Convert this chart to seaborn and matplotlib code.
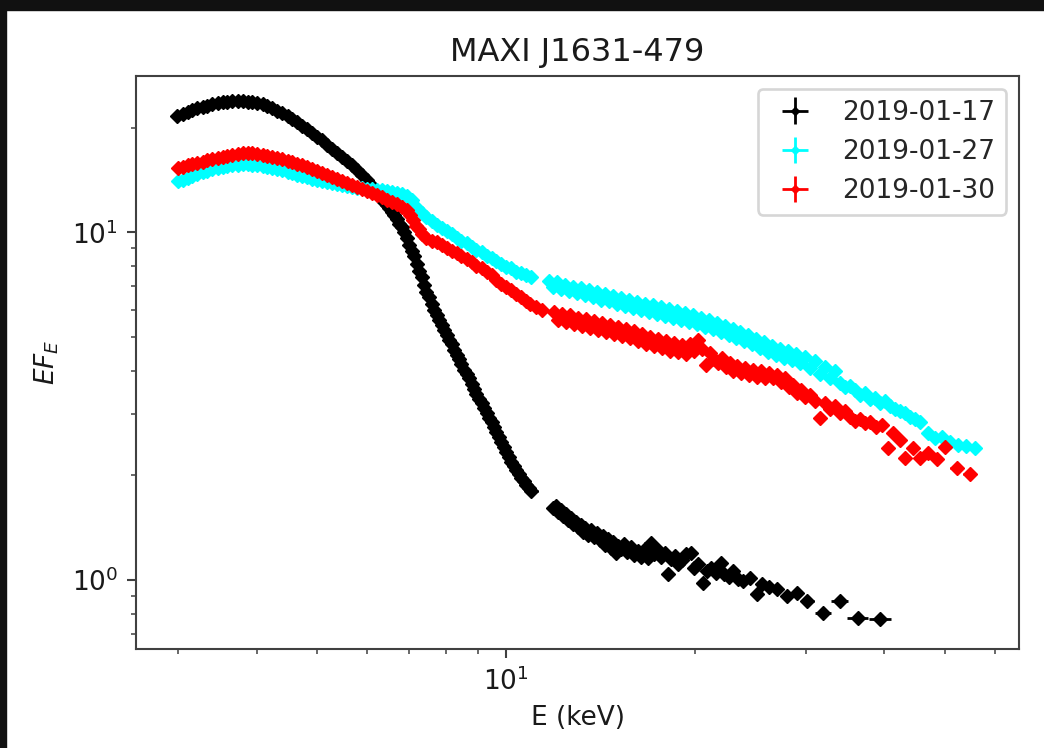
import numpy as np
import matplotlib
matplotlib.use("Agg")
import matplotlib.pyplot as plt
from matplotlib.patches import Rectangle
import seaborn as sns

title = "MAXI J1631-479"
dates = ["2019-01-17", "2019-01-27", "2019-01-30"]
colors = ["black", "cyan", "red"]

# energy (keV) and E*F_E
e_0117 = [2.99, 3.05, 3.11, 3.16, 3.22, 3.28, 3.34, 3.40, 3.47, 3.53, 3.59, 3.66, 3.73, 3.80,
          3.87, 3.94, 4.01, 4.09, 4.16, 4.24, 4.31, 4.39, 4.48, 4.56, 4.64, 4.73, 4.81, 4.90,
          4.99, 5.09, 5.18, 5.27, 5.37, 5.47, 5.57, 5.68, 5.78, 5.89, 6.00, 6.11, 6.22, 6.33,
          6.39, 6.45, 6.51, 6.57, 6.63, 6.69, 6.75, 6.81, 6.88, 6.94, 7.00, 7.07, 7.13, 7.20,
          7.26, 7.33, 7.40, 7.46, 7.53, 7.60, 7.67, 7.74, 7.81, 7.89, 7.96, 8.03, 8.11, 8.18,
          8.25, 8.33, 8.41, 8.48, 8.56, 8.64, 8.72, 8.80, 8.88, 8.96, 9.05, 9.13, 9.21, 9.30,
          9.38, 9.47, 9.55, 9.64, 9.73, 9.82, 9.91, 10.00, 10.09, 10.18, 10.28, 10.37, 10.46,
          10.56, 10.66, 10.76, 10.86, 10.96,
          11.87, 12.00, 12.09, 12.23, 12.32, 12.45, 12.54, 12.68, 12.78, 12.92, 13.01, 13.15,
          13.25, 13.35, 13.50, 13.64, 13.80, 13.95, 14.10, 14.25, 14.36, 14.52, 14.68, 14.79,
          14.95, 15.06, 15.23, 15.40, 15.57, 15.79, 15.97, 16.21, 16.38, 16.62, 16.80, 16.99,
          17.18, 17.43, 17.62, 17.88, 18.08, 18.28, 18.55, 18.76, 19.03, 19.31, 19.67, 19.89,
          20.18, 20.55, 20.85, 21.16, 21.54, 21.94, 22.19, 22.60, 23.01, 23.43, 23.87, 24.48,
          25.11, 25.58, 26.24, 27.03, 28.03, 29.07, 30.16, 32.0, 34.0, 36.3, 39.4]
f_0117 = [21.60, 21.89, 22.18, 22.47, 22.78, 22.93, 23.08, 23.38, 23.54, 23.70, 23.70, 23.85,
          23.85, 23.85, 23.70, 23.70, 23.54, 23.38, 23.08, 22.78, 22.33, 22.03, 21.60, 21.17,
          20.75, 20.21, 19.81, 19.29, 18.78, 18.41, 17.81, 17.35, 16.89, 16.45, 16.03, 15.60,
          15.09, 14.60, 14.12, 13.57, 13.13, 12.61,
          12.20, 11.96, 11.73, 11.42, 11.19, 10.90, 10.61, 10.34, 10.00, 9.61, 9.23, 8.87, 8.53,
          8.14, 7.77, 7.42, 7.08, 6.76, 6.50, 6.24, 6.00, 5.80, 5.61, 5.43, 5.25, 5.08, 4.91,
          4.76, 4.60, 4.45, 4.31, 4.17, 4.03, 3.92, 3.80, 3.67, 3.55, 3.44, 3.32, 3.22, 3.13,
          3.03, 2.93, 2.85, 2.76, 2.67, 2.58, 2.50, 2.42, 2.34, 2.26, 2.19, 2.13, 2.07, 2.02,
          1.97, 1.93, 1.88, 1.84, 1.80,
          1.612, 1.634, 1.570, 1.591, 1.529, 1.550, 1.489, 1.509, 1.450, 1.469, 1.421, 1.440,
          1.375, 1.412, 1.348, 1.393, 1.330, 1.366, 1.304, 1.339, 1.261, 1.312, 1.236, 1.287,
          1.196, 1.253, 1.228, 1.270, 1.204, 1.245, 1.180, 1.212, 1.165, 1.228, 1.157, 1.278,
          1.188, 1.220, 1.165, 1.196, 1.040, 1.149, 1.172, 1.112, 1.142, 1.188, 1.196, 1.083,
          1.112, 0.980, 1.061, 1.083, 1.047, 1.119, 1.040, 1.020, 1.061, 1.006, 0.993, 1.013,
          0.911, 0.974, 0.954, 0.942, 0.899, 0.917, 0.870, 0.803, 0.870, 0.777, 0.772]

e_0127 = [3.00, 3.05, 3.11, 3.16, 3.22, 3.28, 3.34, 3.40, 3.47, 3.53, 3.59, 3.66, 3.73, 3.80,
          3.87, 3.94, 4.01, 4.09, 4.16, 4.24, 4.31, 4.39, 4.48, 4.56, 4.64, 4.73, 4.81, 4.90,
          4.99, 5.09, 5.18, 5.27, 5.37, 5.47, 5.57, 5.68, 5.78, 5.89, 6.00, 6.11, 6.22, 6.33,
          6.45, 6.57, 6.69, 6.81, 6.94, 7.07, 7.20, 7.33, 7.46, 7.60, 7.74, 7.89, 8.03, 8.18,
          8.33, 8.48, 8.64, 8.80, 8.96, 9.13, 9.30, 9.47, 9.64, 9.82, 10.00, 10.18, 10.37,
          10.56, 10.76, 10.96,
          11.70, 11.87, 12.05, 12.23, 12.41, 12.59, 12.78, 12.96, 13.15, 13.35, 13.54, 13.75,
          13.95, 14.15, 14.36, 14.57, 14.79, 15.01, 15.23, 15.46, 15.68, 15.91, 16.15, 16.38,
          16.62, 16.87, 17.12, 17.37, 17.62, 17.88, 18.15, 18.41, 18.69, 18.96, 19.24, 19.53,
          19.82, 20.11, 20.40, 20.70, 21.01, 21.31, 21.62, 21.94, 22.27, 22.60, 22.93, 23.26,
          23.60, 23.95, 24.30, 24.66, 25.02, 25.40, 25.77, 26.15, 26.54, 26.93, 27.32, 27.73,
          28.13, 28.55, 28.97, 29.39, 29.94, 30.49, 31.05, 31.62, 32.21, 32.80, 33.40, 34.02,
          34.65, 35.29, 35.94, 36.60, 37.28, 37.97, 38.67, 39.38, 40.11, 40.85, 41.60, 42.36,
          43.15, 43.94, 44.75, 45.58, 46.93, 48.14, 49.39, 50.85, 52.36, 53.91, 55.71]
f_0127 = [14.03, 14.12, 14.31, 14.50, 14.69, 14.89, 14.99, 15.19, 15.29, 15.39, 15.50, 15.60,
          15.60, 15.70, 15.70, 15.60, 15.60, 15.50, 15.39, 15.29, 15.19, 15.09, 14.89, 14.79,
          14.60, 14.50, 14.41, 14.22, 14.12, 14.03, 13.94, 13.84, 13.75, 13.66, 13.57, 13.48,
          13.39, 13.39, 13.30, 13.30, 13.21, 13.21, 13.13, 13.04, 12.95, 12.87, 12.70, 12.37,
          11.73, 11.34, 11.05, 10.76, 10.48, 10.27, 10.07, 9.87, 9.67, 9.48, 9.30, 9.11, 8.93,
          8.76, 8.58, 8.42, 8.25, 8.09, 7.98, 7.88, 7.72, 7.62, 7.52, 7.42,
          7.27, 6.98, 7.22, 6.86, 7.08, 6.77, 6.99, 6.68, 6.90, 6.59, 6.81, 6.50, 6.72, 6.41,
          6.63, 6.33, 6.55, 6.24, 6.46, 6.16, 6.38, 6.08, 6.29, 6.00, 6.21, 5.92, 6.17, 5.84,
          6.09, 5.76, 6.01, 5.69, 5.93, 5.61, 5.85, 5.54, 5.78, 5.46, 5.66, 5.36, 5.59, 5.28,
          5.48, 5.18, 5.37, 5.08, 5.27, 4.98, 5.17, 4.88, 5.07, 4.78, 4.93, 4.65, 4.84, 4.53,
          4.71, 4.44, 4.62, 4.35, 4.56, 4.29, 4.47, 4.21, 4.38, 4.07, 4.27, 3.91, 4.11, 3.81,
          3.99, 3.70, 3.60, 3.62, 3.51, 3.41, 3.46, 3.32, 3.35, 3.24, 3.28, 3.17, 3.11, 3.07,
          3.03, 2.95, 2.91, 2.85, 2.64, 2.57, 2.58, 2.50, 2.45, 2.43, 2.40]

e_0130 = [3.00, 3.05, 3.11, 3.16, 3.22, 3.28, 3.34, 3.40, 3.47, 3.53, 3.59, 3.66, 3.73, 3.80,
          3.87, 3.94, 4.01, 4.09, 4.16, 4.24, 4.31, 4.39, 4.48, 4.56, 4.64, 4.73, 4.81, 4.90,
          4.99, 5.09, 5.18, 5.27, 5.37, 5.47, 5.57, 5.68, 5.78, 5.89, 6.00, 6.11, 6.22, 6.33,
          6.45, 6.57, 6.69, 6.81, 6.94, 7.02, 7.09, 7.17, 7.25, 7.33, 7.46, 7.60, 7.74, 7.89,
          8.03, 8.18, 8.33, 8.48, 8.64, 8.80, 8.96, 9.13, 9.30, 9.47, 9.64, 9.82, 10.00, 10.18,
          10.37, 10.56, 10.76, 10.92, 11.16, 11.40,
          11.92, 12.09, 12.27, 12.45, 12.63, 12.82, 13.01, 13.20, 13.40, 13.59, 13.80, 14.00,
          14.20, 14.41, 14.63, 14.84, 15.06, 15.29, 15.51, 15.73, 15.97, 16.21, 16.44, 16.68,
          16.93, 17.18, 17.43, 17.69, 17.95, 18.21, 18.48, 18.76, 19.03, 19.31, 19.60, 19.89,
          20.18, 20.48, 20.78, 21.08, 21.39, 21.70, 22.02, 22.35, 22.68, 23.01, 23.35, 23.69,
          24.04, 24.39, 24.75, 25.11, 25.49, 25.86, 26.24, 26.63, 27.03, 27.42, 27.83, 28.24,
          28.65, 29.07, 29.50, 29.94, 30.49, 31.05, 31.62, 32.21, 32.80, 33.40, 34.02, 34.65,
          35.29, 35.94, 36.60, 37.28, 37.97, 38.81, 39.67, 40.55, 41.30, 42.36, 43.15, 44.43,
          45.58, 46.93, 48.50, 49.93, 52.17, 54.70]
f_0130 = [15.29, 15.39, 15.60, 15.70, 15.81, 15.91, 16.13, 16.23, 16.34, 16.45, 16.56, 16.67,
          16.78, 16.89, 16.89, 16.89, 16.78, 16.67, 16.56, 16.45, 16.34, 16.23, 16.02, 15.91,
          15.70, 15.60, 15.39, 15.19, 14.99, 14.79, 14.60, 14.41, 14.22, 14.03, 13.84, 13.66,
          13.48, 13.30, 13.13, 12.95, 12.78, 12.62, 12.37, 12.20, 12.04, 11.81, 11.57, 11.19,
          10.83, 10.41, 10.20, 9.87, 9.67, 9.48, 9.36, 9.23, 9.05, 8.87, 8.70, 8.53, 8.36, 8.20,
          8.03, 7.88, 7.67, 7.52, 7.32, 7.13, 6.99, 6.81, 6.67, 6.50, 6.37, 6.24, 6.12, 6.00,
          5.92, 5.60, 5.84, 5.53, 5.77, 5.45, 5.69, 5.38, 5.62, 5.31, 5.55, 5.24, 5.48, 5.17,
          5.41, 5.10, 5.34, 5.03, 5.27, 4.97, 5.20, 4.87, 5.10, 4.77, 5.00, 4.71, 4.93, 4.64,
          4.87, 4.55, 4.81, 4.52, 4.74, 4.46, 4.79, 4.57, 4.90, 4.63, 4.16, 4.51, 4.33, 4.22,
          4.36, 4.11, 4.22, 4.00, 4.14, 3.95, 4.06, 3.90, 4.03, 3.85, 3.98, 3.82, 3.95, 3.80,
          3.90, 3.72, 3.80, 3.60, 3.65, 3.46, 3.53, 3.37, 3.41, 3.28, 2.93, 3.24, 3.11, 3.17,
          3.03, 3.07, 2.95, 2.87, 2.91, 2.82, 2.85, 2.76, 2.80, 2.40, 2.65, 2.52, 2.25, 2.40,
          2.25, 2.32, 2.23, 2.42, 2.10, 2.02]

energies = [e_0117, e_0127, e_0130]
fluxes = [f_0117, f_0127, f_0130]
rel_err = [0.012, 0.012, 0.012]

sns.set_theme(style="ticks")
plt.rcParams["font.family"] = ["DejaVu Sans"]
plt.rcParams["mathtext.fontset"] = "dejavusans"

fig = plt.figure(figsize=(10.44, 7.48), dpi=100)
fig.patch.set_facecolor("white")
ax = fig.add_axes([0.1303, 0.1324, 0.8458, 0.766])
ax.set_xscale("log")
ax.set_yscale("log")

for E, F, err, c, lab in zip(energies, fluxes, rel_err, colors, dates):
    E = np.asarray(E)
    F = np.asarray(F)
    ax.errorbar(E, F, xerr=np.gradient(E) / 2, yerr=F * err, fmt="D", ms=7.0,
                color=c, ecolor=c, elinewidth=2.0, capsize=0, label=lab)

ax.set_xlim(2.57, 65.6)
ax.set_ylim(0.633, 28.2)

ax.set_title(title, fontsize=23, pad=11, color="0.1")
ax.set_xlabel("E (keV)", fontsize=19, labelpad=7, color="0.1")
ax.set_ylabel("$EF_E$", fontsize=19, labelpad=8, color="0.1")
ax.tick_params(which="major", length=6.5, width=1.5, labelsize=19, pad=6.5,
               color="0.25", labelcolor="0.1")
ax.tick_params(which="minor", length=3.8, width=1.1, color="0.25")
for sp in ax.spines.values():
    sp.set_linewidth(1.5)
    sp.set_edgecolor("0.25")

leg = ax.legend(loc="upper right", fontsize=19, markerscale=0.6)
leg.get_frame().set_linewidth(1.9)

# dark screenshot border on the top and left edges
fig.add_artist(Rectangle((0, 1 - 10 / 748), 1, 10 / 748, transform=fig.transFigure,
                         color="#111111", zorder=10))
fig.add_artist(Rectangle((0, 0), 6 / 1044, 1, transform=fig.transFigure,
                         color="#111111", zorder=10))

fig.savefig("out.png", dpi=100)
